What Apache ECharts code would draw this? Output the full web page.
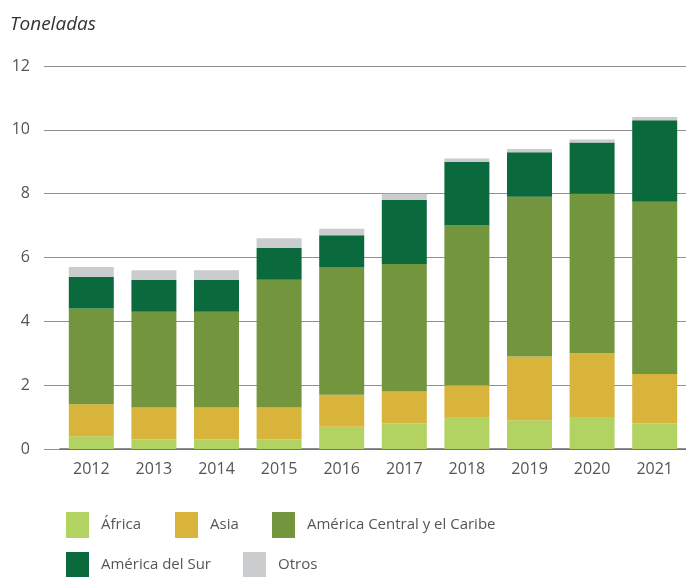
<!DOCTYPE html>
<html>
<head>
<meta charset="utf-8">
<script src="https://cdn.jsdelivr.net/npm/echarts@6/dist/echarts.min.js"></script>
<style>
  html, body { margin: 0; padding: 0; background: #fff; }
  #chart { width: 686px; height: 577px; }
</style>
</head>
<body>
<div id="chart"></div>
<script>
// years and values (toneladas) per region
const years = ["2012", "2013", "2014", "2015", "2016", "2017", "2018", "2019", "2020", "2021"];
const africa = [0.4, 0.3, 0.3, 0.3, 0.7, 0.8, 1.0, 0.9, 1.0, 0.8];
const asia = [1.0, 1.0, 1.0, 1.0, 1.0, 1.0, 1.0, 2.0, 2.0, 1.55];
const centralCaribe = [3.0, 3.0, 3.0, 4.0, 4.0, 4.0, 5.0, 5.0, 5.0, 5.4];
const sur = [1.0, 1.0, 1.0, 1.0, 1.0, 2.0, 2.0, 1.4, 1.6, 2.55];
const otros = [0.3, 0.3, 0.3, 0.3, 0.2, 0.2, 0.1, 0.1, 0.1, 0.1];
const yTicks = [0, 2, 4, 6, 8, 10, 12];

const names = ["África", "Asia", "América Central y el Caribe", "América del Sur", "Otros"];
const colors = ["#b2d361", "#d8b43a", "#73953d", "#0a6a3d", "#cbcccd"];
const values = [africa, asia, centralCaribe, sur, otros];

const font = "'Open Sans', 'Noto Sans', sans-serif";
const chart = echarts.init(document.getElementById("chart"));

// one legend per item so each sits where it does in the original
const legendPos = [[66, 512], [175, 512], [272, 512], [66, 552], [243, 552]];
const legends = names.map((n, i) => ({
  data: [n],
  left: legendPos[i][0],
  top: legendPos[i][1],
  padding: 0,
  itemWidth: 23,
  itemHeight: 26,
  icon: "rect",
  selectedMode: false,
  textStyle: { fontFamily: font, fontSize: 15, color: "#555", padding: [0, 0, 0, 7] }
}));

chart.setOption({
  animation: false,
  color: colors,
  title: {
    text: "Toneladas",
    left: 10,
    top: 15,
    padding: 0,
    textStyle: { fontFamily: font, fontSize: 19, fontStyle: "italic", fontWeight: "normal", color: "#333" }
  },
  legend: legends,
  grid: [
    // grid 0: y labels + gridlines (wider, starts where the lines start)
    { left: 44, right: 0, top: 66, bottom: 128 },
    // grid 1: the bars
    { left: 60, width: 633, top: 66, bottom: 128 }
  ],
  xAxis: [
    { gridIndex: 0, type: "category", data: years, show: false },
    {
      gridIndex: 1,
      type: "category",
      data: years,
      axisLine: { lineStyle: { color: "#6b6b6b", width: 1.5 } },
      axisTick: { alignWithLabel: true, length: 4, lineStyle: { color: "#999" } },
      axisLabel: { fontFamily: font, fontSize: 16, color: "#555", margin: 12 }
    }
  ],
  yAxis: [
    {
      gridIndex: 0,
      type: "value",
      min: yTicks[0],
      max: yTicks[yTicks.length - 1],
      interval: 2,
      axisLine: { show: false },
      axisTick: { show: false },
      axisLabel: { fontFamily: font, fontSize: 16, color: "#555", margin: 14 },
      splitLine: { lineStyle: { color: "#8f8f8f", width: 1.2 } }
    },
    {
      gridIndex: 1,
      type: "value",
      min: yTicks[0],
      max: yTicks[yTicks.length - 1],
      interval: 2,
      show: false,
      splitLine: { show: false }
    }
  ],
  series: values.map((v, i) => ({
    name: names[i],
    type: "bar",
    stack: "total",
    xAxisIndex: 1,
    yAxisIndex: 1,
    barWidth: 45,
    data: v,
    itemStyle: { color: colors[i] }
  }))
});
</script>
</body>
</html>
